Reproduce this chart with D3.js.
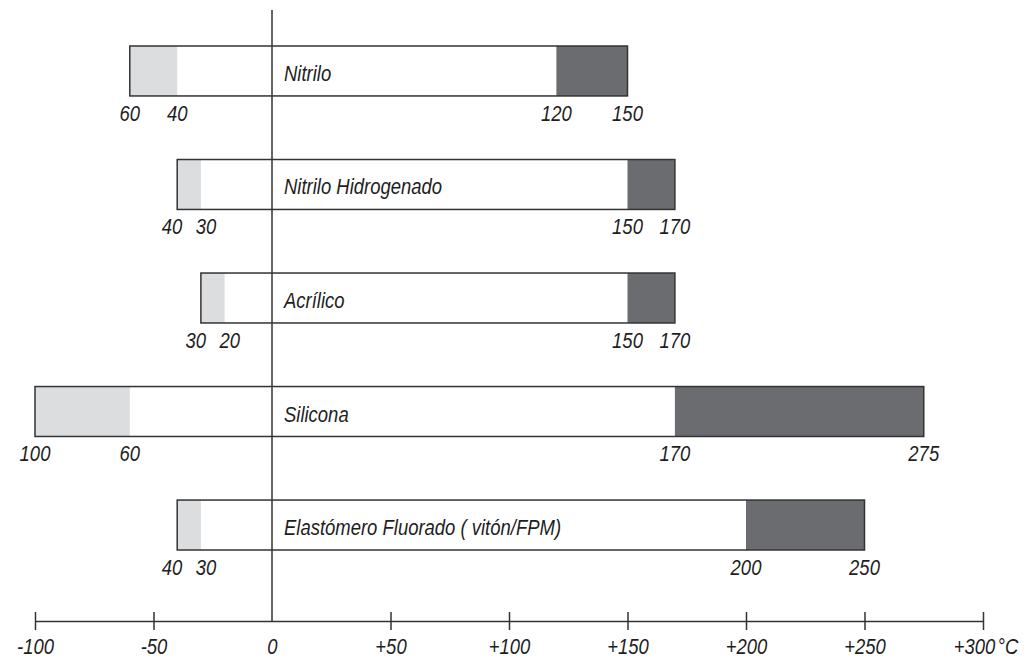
<!DOCTYPE html>
<html>
<head>
<meta charset="utf-8">
<script src="https://cdn.jsdelivr.net/npm/d3@7"></script>
<style>
  html, body { margin: 0; padding: 0; background: #fff; }
  svg text { font-family: "Liberation Sans", Arial, sans-serif; font-style: italic; fill: #1e1e1e; }
</style>
</head>
<body>
<svg id="chart" width="1035" height="657"></svg>
<script>
// Data
const materials = ["Nitrilo", "Nitrilo Hidrogenado", "Acrílico", "Silicona", "Elastómero Fluorado ( vitón/FPM)"];
const minTemp     = [-60, -40, -30, -100, -40];   // extreme low
const lowTemp     = [-40, -30, -20, -60, -30];    // normal low
const highTemp    = [120, 150, 150, 170, 200];    // normal high
const maxTemp     = [150, 170, 170, 275, 250];    // extreme high
const axisTicks   = [-100, -50, 0, 50, 100, 150, 200, 250, 300];
const axisLabels  = ["-100", "-50", "0", "+50", "+100", "+150", "+200", "+250", "+300"];
const unitLabel   = "°C";

const rows = materials.map((m, i) => ({
  name: m, min: minTemp[i], low: lowTemp[i], high: highTemp[i], max: maxTemp[i]
}));

const svg = d3.select("#chart");
const x = d3.scaleLinear().domain([-100, 300]).range([35, 983]);
const y = d3.scaleBand().domain(materials).range([46, 550]).paddingInner(0.56).paddingOuter(0);
const axisY = 621;
const fs = 22;
const squeeze = 0.84;

const lightFill = "#dcdddf";
const darkFill = "#6b6c70";
const stroke = "#333";

// condensed italic text helper
function label(parent, tx, ty, str, anchor) {
  return parent.append("text")
    .attr("transform", `translate(${tx},${ty}) scale(${squeeze},1)`)
    .attr("text-anchor", anchor || "start")
    .attr("font-size", fs)
    .text(str);
}

const g = svg.append("g");

// Bars
const row = g.selectAll("g.row").data(rows).enter().append("g").attr("class", "row");

row.append("rect")
  .attr("x", d => x(d.min)).attr("y", d => y(d.name))
  .attr("width", d => x(d.max) - x(d.min)).attr("height", y.bandwidth())
  .attr("fill", "#fff");
row.append("rect")
  .attr("x", d => x(d.min)).attr("y", d => y(d.name))
  .attr("width", d => x(d.low) - x(d.min)).attr("height", y.bandwidth())
  .attr("fill", lightFill);
row.append("rect")
  .attr("x", d => x(d.high)).attr("y", d => y(d.name))
  .attr("width", d => x(d.max) - x(d.high)).attr("height", y.bandwidth())
  .attr("fill", darkFill);
row.append("rect")
  .attr("x", d => x(d.min)).attr("y", d => y(d.name))
  .attr("width", d => x(d.max) - x(d.min)).attr("height", y.bandwidth())
  .attr("fill", "none").attr("stroke", stroke).attr("stroke-width", 1.5);

// names and value labels
row.each(function(d) {
  const sel = d3.select(this);
  label(sel, x(0) + 12, y(d.name) + y.bandwidth() / 2 + 10, d.name, "start");
  const ly = y(d.name) + y.bandwidth() + 25;
  const minGap = 34;
  let xa = x(d.min), xb = x(d.low);
  if (xb - xa < minGap) { const s = (minGap - (xb - xa)) / 2; xa -= s; xb += s; }
  let xc = x(d.high), xd = x(d.max);
  if (xd - xc < minGap) { const s = (minGap - (xd - xc)) / 2; xc -= s; xd += s; }
  label(sel, xa, ly, Math.abs(d.min), "middle");
  label(sel, xb, ly, Math.abs(d.low), "middle");
  label(sel, xc, ly, Math.abs(d.high), "middle");
  label(sel, xd, ly, Math.abs(d.max), "middle");
});

// vertical zero line
g.append("line")
  .attr("x1", x(0)).attr("x2", x(0))
  .attr("y1", 10).attr("y2", axisY)
  .attr("stroke", stroke).attr("stroke-width", 1.5);

// bottom axis
const axis = d3.axisBottom(x)
  .tickValues(axisTicks)
  .tickSizeInner(0).tickSizeOuter(0)
  .tickFormat("");
const ax = g.append("g").attr("transform", `translate(0,${axisY})`).call(axis);
ax.select(".domain").attr("stroke", stroke).attr("stroke-width", 1.5);
ax.selectAll(".tick line")
  .attr("y1", -9).attr("y2", 9)
  .attr("stroke", stroke).attr("stroke-width", 1.5);
ax.selectAll(".tick").filter(d => d === 0).select("line").remove();
ax.selectAll(".tick").each(function(d, i) {
  const last = i === axisTicks.length - 1;
  label(d3.select(this), last ? -9 : 0, 33, axisLabels[i], "middle");
  if (last) label(d3.select(this), 14, 33, unitLabel, "start");
});
</script>
</body>
</html>
